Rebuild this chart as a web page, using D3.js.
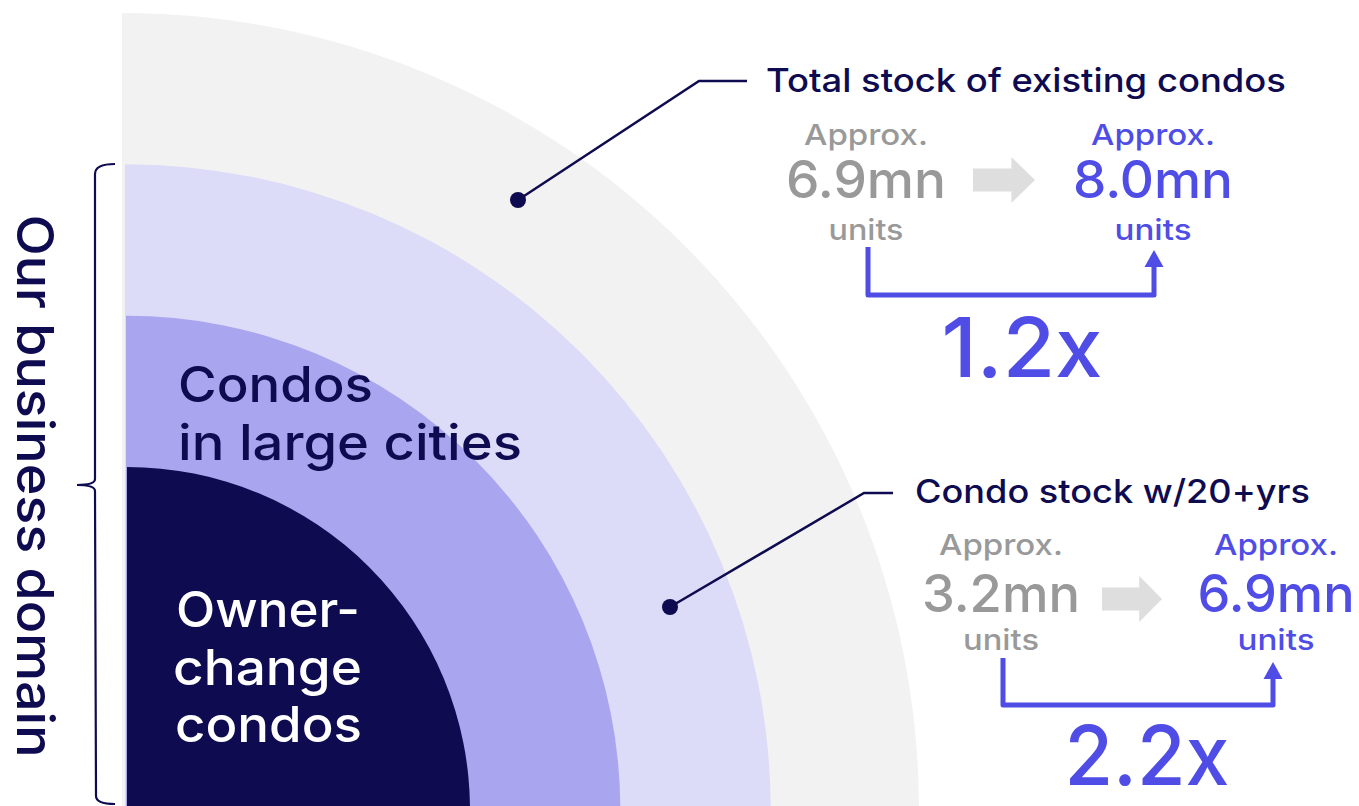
<!DOCTYPE html>
<html>
<head>
<meta charset="utf-8">
<script src="https://cdn.jsdelivr.net/npm/d3@7"></script>
<style>
  html, body { margin: 0; padding: 0; background: #ffffff; }
  svg { display: block; font-family: Inter, "Noto Sans", sans-serif; }
</style>
</head>
<body>
<svg id="chart" width="1359" height="806"></svg>
<script>
// ---- data ----
// rings from innermost to outermost
const ringNames = ["Owner-change condos", "Condos in large cities", "Condo stock w/20+yrs", "Total stock of existing condos"];
const ringLevels = [1, 2, 3, 4];
const ringLabelLines = [["Owner-", "change", "condos"], ["Condos", "in large cities"]];
const domainLabel = "Our business domain";

const stockTitles = ["Total stock of existing condos", "Condo stock w/20+yrs"];
const stockBefore = [6.9, 3.2];   // mn units
const stockAfter = [8.0, 6.9];    // mn units
const growthMultiples = [1.2, 2.2];
const approxText = "Approx.";
const unitText = "units";

// ---- styles ----
const navy = "#0f0b50";
const blue = "#4f4de6";
const greyText = "#999999";
const ringColors = ["#0f0b50", "#a9a6ef", "#dcdbf8", "#f2f2f2"];

const svg = d3.select("#chart");
const cy = 810;
const ringCx = [127, 126, 125, 122];

// radius scale: nesting level -> quarter-circle radius
const r = d3.scaleLinear().domain([1, 4]).range([343, 797]);
const arc = d3.arc().innerRadius(0).startAngle(0).endAngle(Math.PI / 2);

// quarter circles, outermost first
const rings = ringLevels.map((lv, i) => ({ name: ringNames[i], level: lv, color: ringColors[i], cx: ringCx[i] }))
  .reverse();
svg.append("g").selectAll("path")
  .data(rings)
  .join("path")
  .attr("transform", d => `translate(${d.cx},${cy})`)
  .attr("d", d => arc({ outerRadius: r(d.level) }))
  .attr("fill", d => d.color);

// ring labels
const fitText = (sel, len) => sel.attr("textLength", len).attr("lengthAdjust", "spacingAndGlyphs");
const owner = svg.append("g").attr("fill", "#ffffff").attr("font-size", 50).attr("font-weight", 500);
const ownerPos = [[176, 627, 184], [173, 685, 189], [175, 742, 187]];
ringLabelLines[0].forEach((t, i) => {
  owner.append("text").attr("x", ownerPos[i][0]).attr("y", ownerPos[i][1]).text(t)
    .call(fitText, ownerPos[i][2]);
});
const cities = svg.append("g").attr("fill", navy).attr("font-size", 50).attr("font-weight", 500);
const cityPos = [[178, 402, 195], [178, 460, 344]];
ringLabelLines[1].forEach((t, i) => {
  cities.append("text").attr("x", cityPos[i][0]).attr("y", cityPos[i][1]).text(t)
    .call(fitText, cityPos[i][2]);
});

// business-domain brace
const brace = d3.path();
brace.moveTo(115, 164);
brace.quadraticCurveTo(95, 164, 95, 174);
brace.lineTo(95, 479);
brace.quadraticCurveTo(95, 485, 77, 485);
brace.quadraticCurveTo(95, 485, 95, 491);
brace.lineTo(96, 796);
brace.quadraticCurveTo(96, 804, 115, 804);
svg.append("path").attr("d", brace.toString())
  .attr("fill", "none").attr("stroke", navy).attr("stroke-width", 2.2);

svg.append("text")
  .attr("transform", "translate(17,486) rotate(90)")
  .attr("text-anchor", "middle")
  .attr("fill", navy).attr("font-size", 51).attr("font-weight", 500)
  .text(domainLabel)
  .call(fitText, 543);

// ---- stock callouts ----
const fmt = d3.format(".1f");
const layout = [
  { dot: [518, 200], elbow: [699, 81], end: [747, 81], titleX: 766, titleY: 92, titleLen: 520,
    leftX: 866, rightX: 1153, approxY: 145, numY: 198, unitY: 240,
    numLen: [160, 160], unitLen: [75, 77],
    arrow: [973, 1035, 180], bracket: { x0: 868, x1: 1154, top: 247, bottom: 295, tip: 250 },
    multX: 1022, multY: 377, multLen: 161 },
  { dot: [670, 607], elbow: [864, 493], end: [893, 493], titleX: 915, titleY: 503, titleLen: 395,
    leftX: 1001, rightX: 1276, approxY: 555, numY: 612, unitY: 650,
    numLen: [158, 157], unitLen: [76, 77],
    arrow: [1102, 1162, 599], bracket: { x0: 1003, x1: 1273, top: 658, bottom: 705, tip: 662 },
    multX: 1147, multY: 785, multLen: 165 }
];

const groups = stockTitles.map((t, i) => ({
  title: t, before: stockBefore[i], after: stockAfter[i], mult: growthMultiples[i], ...layout[i]
}));

groups.forEach(g => {
  const G = svg.append("g");

  // leader line with dot
  G.append("path")
    .attr("d", d3.line()([g.dot, g.elbow, g.end]))
    .attr("fill", "none").attr("stroke", navy).attr("stroke-width", 2.5);
  G.append("circle").attr("cx", g.dot[0]).attr("cy", g.dot[1]).attr("r", 8).attr("fill", navy);

  // title
  G.append("text").attr("x", g.titleX).attr("y", g.titleY)
    .attr("fill", navy).attr("font-size", 33).attr("font-weight", 500)
    .text(g.title).call(fitText, g.titleLen);

  // before / after columns
  const cols = [
    { x: g.leftX, v: g.before, color: greyText },
    { x: g.rightX, v: g.after, color: blue }
  ];
  cols.forEach((c, j) => {
    const t = G.append("g").attr("fill", c.color).attr("text-anchor", "middle").attr("font-weight", 500);
    t.append("text").attr("x", c.x).attr("y", g.approxY).attr("font-size", 29)
      .text(approxText).call(fitText, 124);
    t.append("text").attr("x", c.x).attr("y", g.numY).attr("font-size", 52)
      .text(fmt(c.v) + "mn").call(fitText, g.numLen[j]);
    t.append("text").attr("x", c.x).attr("y", g.unitY).attr("font-size", 29)
      .text(unitText).call(fitText, g.unitLen[j]);
  });

  // grey block arrow
  const [ax0, ax1, ay] = g.arrow;
  const head = ax0 + (ax1 - ax0) * 0.62;
  G.append("path")
    .attr("d", d3.line()([[ax0, ay - 11.5], [head, ay - 11.5], [head, ay - 23], [ax1, ay],
      [head, ay + 23], [head, ay + 11.5], [ax0, ay + 11.5]]) + "Z")
    .attr("fill", "#dedede");

  // growth bracket with arrowhead
  const b = g.bracket;
  G.append("path")
    .attr("d", d3.line()([[b.x0, b.top], [b.x0, b.bottom], [b.x1, b.bottom], [b.x1, b.tip + 15]]))
    .attr("fill", "none").attr("stroke", blue).attr("stroke-width", 5)
    .attr("stroke-linejoin", "round").attr("stroke-linecap", "butt");
  G.append("path")
    .attr("d", d3.line()([[b.x1, b.tip], [b.x1 + 9.5, b.tip + 17], [b.x1 - 9.5, b.tip + 17]]) + "Z")
    .attr("fill", blue);

  // multiple
  G.append("text").attr("x", g.multX).attr("y", g.multY)
    .attr("text-anchor", "middle").attr("fill", blue)
    .attr("font-size", 82).attr("font-weight", 500)
    .text(fmt(g.mult) + "x").call(fitText, g.multLen);
});
</script>
</body>
</html>
